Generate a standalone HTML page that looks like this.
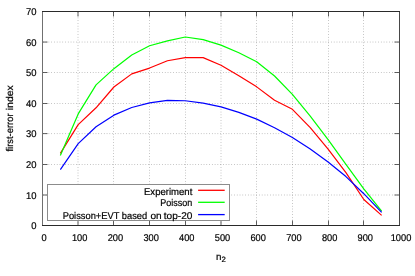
<!DOCTYPE html>
<html><head><meta charset="utf-8"><style>
html,body{margin:0;padding:0;background:#fff;}
svg{display:block;will-change:transform;}
text{font-family:"Liberation Sans",sans-serif;font-size:9.8px;fill:#000;stroke:#000;stroke-width:0.2px;text-rendering:geometricPrecision;}
</style></head><body>
<svg width="415" height="276" viewBox="0 0 415 276">
<rect width="415" height="276" fill="#fff"/>

<path d="M78.00,12.00V225.50M113.50,12.00V225.50M149.50,12.00V225.50M185.50,12.00V225.50M221.00,12.00V225.50M256.50,12.00V225.50M292.50,12.00V225.50M328.50,12.00V225.50M363.50,12.00V225.50M43.00,195.00H399.50M43.00,164.50H399.50M43.00,133.60H399.50M43.00,103.50H399.50M43.00,72.50H399.50M43.00,42.05H399.50" stroke="#8c8c8c" stroke-width="0.7" stroke-dasharray="0.7,2.07" fill="none"/>
<path d="M78.00,225.00v-4.5M78.00,12.00v4.5M113.50,225.00v-4.5M113.50,12.00v4.5M149.50,225.00v-4.5M149.50,12.00v4.5M185.50,225.00v-4.5M185.50,12.00v4.5M221.00,225.00v-4.5M221.00,12.00v4.5M256.50,225.00v-4.5M256.50,12.00v4.5M292.50,225.00v-4.5M292.50,12.00v4.5M328.50,225.00v-4.5M328.50,12.00v4.5M363.50,225.00v-4.5M363.50,12.00v4.5M43.00,195.00h4.5M399.00,195.00h-4.5M43.00,164.50h4.5M399.00,164.50h-4.5M43.00,133.60h4.5M399.00,133.60h-4.5M43.00,103.50h4.5M399.00,103.50h-4.5M43.00,72.50h4.5M399.00,72.50h-4.5M43.00,42.05h4.5M399.00,42.05h-4.5" stroke="#202020" stroke-width="0.7" fill="none"/>
<polyline points="60.35,153.35 78.20,124.61 96.05,107.80 113.90,87.01 131.75,73.87 149.60,68.06 167.45,60.72 185.30,57.66 203.15,57.66 221.00,65.31 238.85,75.70 256.70,86.86 274.55,100.16 292.40,109.33 310.25,127.67 328.10,149.07 345.95,172.61 363.80,199.51 381.65,215.41" fill="none" stroke="#ff0000" stroke-width="1.2" stroke-linejoin="round"/>
<polyline points="60.35,155.49 78.20,113.91 96.05,84.87 113.90,68.67 131.75,54.91 149.60,45.74 167.45,40.85 185.30,37.03 203.15,39.63 221.00,45.13 238.85,52.77 256.70,61.79 274.55,76.01 292.40,94.35 310.25,116.21 328.10,139.59 345.95,164.36 363.80,188.81 381.65,211.13" fill="none" stroke="#00ff00" stroke-width="1.2" stroke-linejoin="round"/>
<polyline points="60.35,169.55 78.20,143.57 96.05,126.75 113.90,115.14 131.75,107.49 149.60,102.91 167.45,100.46 185.30,100.77 203.15,103.21 221.00,106.88 238.85,112.39 256.70,119.11 274.55,127.67 292.40,137.45 310.25,149.07 328.10,162.06 345.95,176.59 363.80,193.71 381.65,212.35" fill="none" stroke="#0000ff" stroke-width="1.2" stroke-linejoin="round"/>
<rect x="47.5" y="184.5" width="182" height="36" fill="#fff" stroke="#8c8c8c" stroke-width="1"/>
<path d="M198.1,190.3H224.7" stroke="#ff0000" stroke-width="1.3"/>
<path d="M198.1,202.3H224.7" stroke="#00ff00" stroke-width="1.3"/>
<path d="M198.1,214.6H224.7" stroke="#0000ff" stroke-width="1.3"/>
<path d="M42.00,11.50H400.00M42.00,225.50H400.00" stroke="#2a2a2a" stroke-width="1" fill="none"/>
<path d="M42.50,12.00V225.00" stroke="#707070" stroke-width="1" fill="none"/>
<path d="M399.50,12.00V225.00" stroke="#484848" stroke-width="1" fill="none"/>
<g>
<text x="144.00" y="194.6" textLength="48.3" lengthAdjust="spacingAndGlyphs">Experiment</text>
<text x="160.30" y="206.4" textLength="32.0" lengthAdjust="spacingAndGlyphs">Poisson</text>
<text y="218.6"><tspan x="62.70" textLength="56.50" lengthAdjust="spacingAndGlyphs">Poisson+EVT</tspan> <tspan x="121.80" textLength="25.40" lengthAdjust="spacingAndGlyphs">based</tspan> <tspan x="150.50" textLength="11.20" lengthAdjust="spacingAndGlyphs">on</tspan> <tspan x="163.80" textLength="28.60" lengthAdjust="spacingAndGlyphs">top-20</tspan></text>
<text x="31.35" y="229.00" textLength="5.25" lengthAdjust="spacingAndGlyphs">0</text>
<text x="26.10" y="199.00" textLength="10.50" lengthAdjust="spacingAndGlyphs">10</text>
<text x="26.10" y="168.00" textLength="10.50" lengthAdjust="spacingAndGlyphs">20</text>
<text x="26.10" y="137.00" textLength="10.50" lengthAdjust="spacingAndGlyphs">30</text>
<text x="26.10" y="107.00" textLength="10.50" lengthAdjust="spacingAndGlyphs">40</text>
<text x="26.10" y="76.00" textLength="10.50" lengthAdjust="spacingAndGlyphs">50</text>
<text x="26.10" y="46.00" textLength="10.50" lengthAdjust="spacingAndGlyphs">60</text>
<text x="26.10" y="15.00" textLength="10.50" lengthAdjust="spacingAndGlyphs">70</text>
<text x="41.42" y="241.2" textLength="5.15" lengthAdjust="spacingAndGlyphs">0</text>
<text x="71.98" y="241.2" textLength="15.45" lengthAdjust="spacingAndGlyphs">100</text>
<text x="107.68" y="241.2" textLength="15.45" lengthAdjust="spacingAndGlyphs">200</text>
<text x="143.38" y="241.2" textLength="15.45" lengthAdjust="spacingAndGlyphs">300</text>
<text x="179.08" y="241.2" textLength="15.45" lengthAdjust="spacingAndGlyphs">400</text>
<text x="214.78" y="241.2" textLength="15.45" lengthAdjust="spacingAndGlyphs">500</text>
<text x="250.47" y="241.2" textLength="15.45" lengthAdjust="spacingAndGlyphs">600</text>
<text x="286.17" y="241.2" textLength="15.45" lengthAdjust="spacingAndGlyphs">700</text>
<text x="321.88" y="241.2" textLength="15.45" lengthAdjust="spacingAndGlyphs">800</text>
<text x="357.57" y="241.2" textLength="15.45" lengthAdjust="spacingAndGlyphs">900</text>
<text x="390.70" y="241.2" textLength="20.60" lengthAdjust="spacingAndGlyphs">1000</text>
<text transform="translate(13,118.2) rotate(-90)"><tspan x="-33.3" textLength="38" lengthAdjust="spacingAndGlyphs">first-error</tspan> <tspan x="8.0" textLength="25" lengthAdjust="spacingAndGlyphs">index</tspan></text>
<text x="221" y="260" text-anchor="middle">n<tspan font-size="7.8px" dy="1.6">2</tspan></text>
</g>
</svg></body></html>
